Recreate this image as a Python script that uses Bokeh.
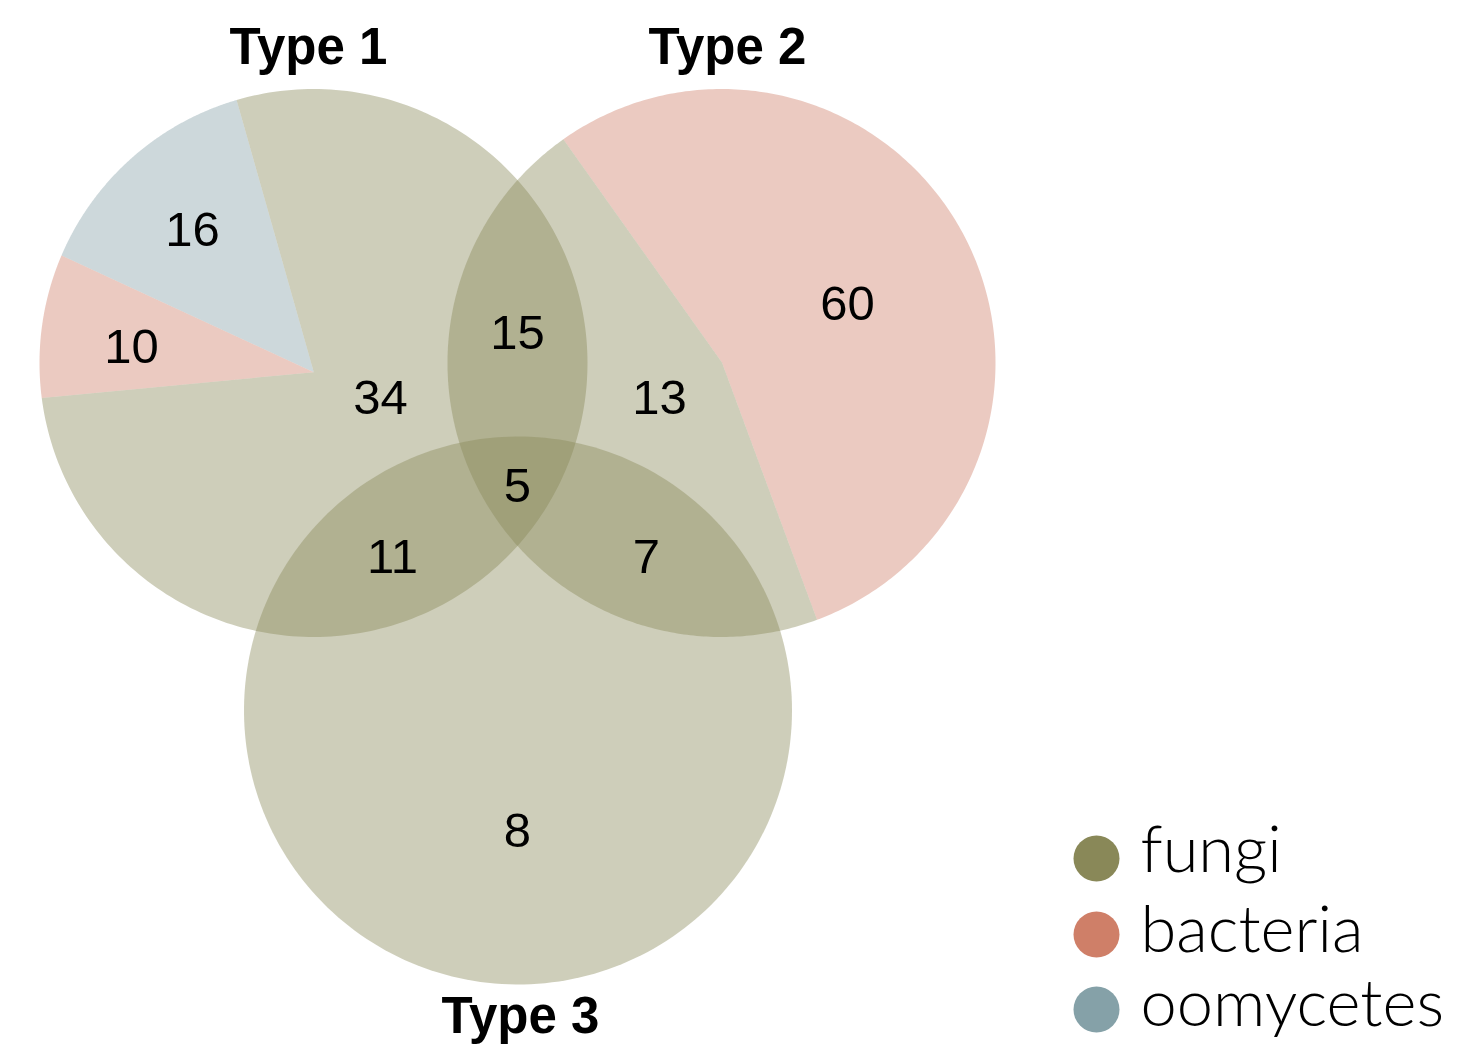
import numpy as np
from bokeh.plotting import figure
from bokeh.models import Range1d
from bokeh.core.properties import value
from bokeh.embed import file_html
from bokeh.resources import INLINE

# ---------------- data ----------------
set_names = ["Type 1", "Type 2", "Type 3"]
region_counts = [16, 10, 34, 15, 13, 60, 5, 11, 7, 8]

type1_groups = ["oomycetes", "bacteria", "fungi"]
type1_share = [13.7, 8.4, 77.9]          # percent of pie
type2_groups = ["bacteria", "fungi"]
type2_share = [54.2, 45.8]
type3_groups = ["fungi"]
type3_share = [100.0]

legend_groups = ["fungi", "bacteria", "oomycetes"]

# ---------------- style / layout ----------------
group_colors = {"fungi": "#898858", "bacteria": "#cf7f68", "oomycetes": "#85a1a8"}
ALPHA = 0.41
R = 274.0
circle_centers = [(313.0, 362.5), (721.0, 362.5), (517.5, 710.0)]
pie_apex = [(313.3, 371.7), (721.5, 362.0), (517.5, 710.0)]
pie_start = [105.84, -69.72, 90.0]
title_pos = [(308, 46), (727, 46), (520, 1015)]
region_pos = [(192, 229), (131, 346), (380, 397), (517, 332), (659, 397),
              (847, 303), (517, 485), (392, 556), (646, 556), (517, 830)]
legend_dot = [(1096, 858), (1096, 934), (1096, 1009)]
legend_text_x = 1140
legend_y = [846, 926, 1000]

W, H = 1445, 1045
p = figure(width=W, height=H, output_backend="svg", toolbar_location=None,
           x_range=Range1d(0, W), y_range=Range1d(H, 0),
           min_border=0, outline_line_color=None, background_fill_color="white")
p.axis.visible = False
p.grid.visible = False


def ray_hit(apex, center, r, th):
    d = np.array([np.cos(np.radians(th)), -np.sin(np.radians(th))])
    f = np.array(apex) - np.array(center)
    b = 2 * f.dot(d)
    c = f.dot(f) - r * r
    t = (-b + np.sqrt(b * b - 4 * c)) / 2
    pt = np.array(apex) + t * d
    return np.degrees(np.arctan2(-(pt[1] - center[1]), pt[0] - center[0]))


def slice_poly(apex, center, r, th1, th2, n=240):
    if th2 - th1 >= 359.999:
        phis = np.radians(np.linspace(0, 360, n))
        return list(center[0] + r * np.cos(phis)), list(center[1] - r * np.sin(phis))
    p1 = ray_hit(apex, center, r, th1)
    p2 = ray_hit(apex, center, r, th2)
    span = (p2 - p1) % 360
    if span < 1e-6:
        span = 360
    phis = np.radians(np.linspace(p1, p1 + span, n))
    xs = [apex[0]] + list(center[0] + r * np.cos(phis))
    ys = [apex[1]] + list(center[1] - r * np.sin(phis))
    return xs, ys


pies = [(type1_groups, type1_share), (type2_groups, type2_share), (type3_groups, type3_share)]
for i, (groups, shares) in enumerate(pies):
    ang = pie_start[i]
    for g, s in zip(groups, shares):
        span = s / 100.0 * 360.0
        xs, ys = slice_poly(pie_apex[i], circle_centers[i], R, ang, ang + span)
        p.patch(xs, ys, fill_color=group_colors[g], fill_alpha=ALPHA, line_color=None)
        ang += span

# set titles
p.text(x=[t[0] for t in title_pos], y=[t[1] for t in title_pos], text=set_names,
       text_font=value("Liberation Sans"), text_font_style="bold", text_font_size="51px",
       text_align="center", text_baseline="alphabetic", text_color="black")

# region counts
p.text(x=[q[0] for q in region_pos], y=[q[1] for q in region_pos],
       text=[str(v) for v in region_counts],
       text_font=value("Liberation Sans"), text_font_size="49px",
       text_align="center", text_baseline="middle", text_color="black")

# legend
p.circle(x=[d[0] for d in legend_dot], y=[d[1] for d in legend_dot], radius=23,
         fill_color=[group_colors[g] for g in legend_groups], line_color=None)
p.text(x=[legend_text_x] * 3, y=legend_y, text=legend_groups,
       text_font=value("Lato Light, Lato, sans-serif"), text_font_size="65px",
       text_align="left", text_baseline="alphabetic", text_color="black")

open("out.html", "w").write(file_html(p, INLINE))
